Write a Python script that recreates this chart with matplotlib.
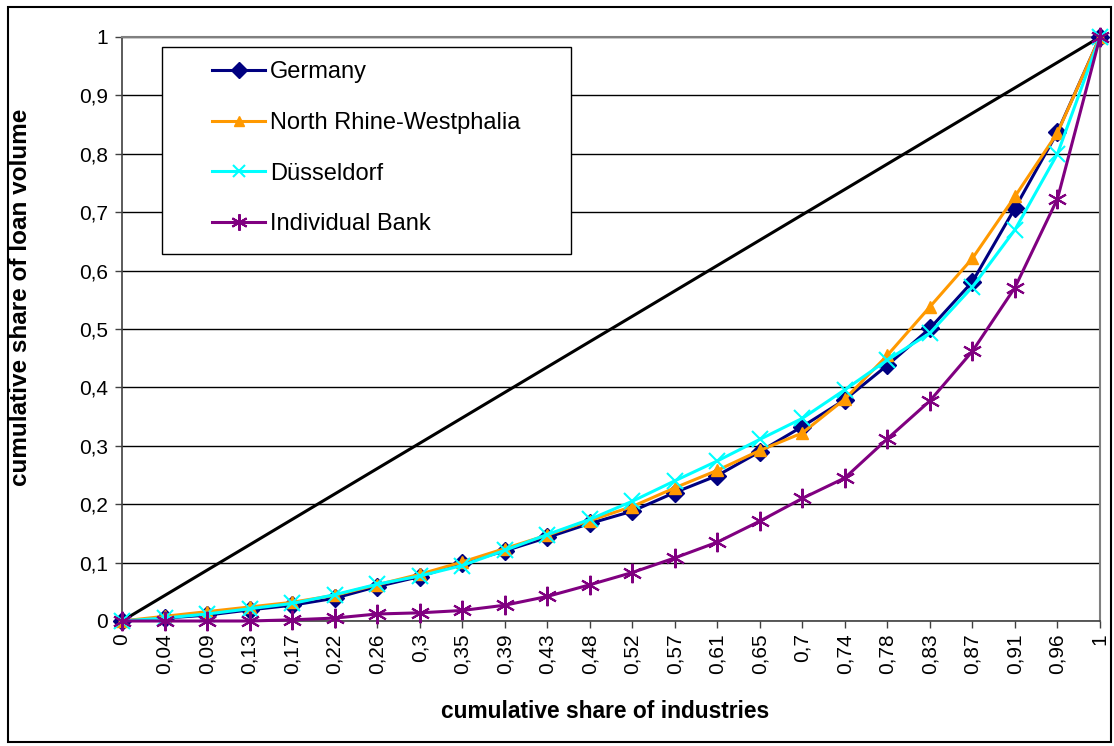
import matplotlib.pyplot as plt
from matplotlib.patches import Rectangle
from matplotlib.lines import Line2D

# cumulative share of industries (category labels)
x_labels = ['0', '0,04', '0,09', '0,13', '0,17', '0,22', '0,26', '0,3', '0,35', '0,39',
            '0,43', '0,48', '0,52', '0,57', '0,61', '0,65', '0,7', '0,74', '0,78', '0,83',
            '0,87', '0,91', '0,96', '1']
equality = [0.0, 0.0435, 0.087, 0.1304, 0.1739, 0.2174, 0.2609, 0.3043, 0.3478, 0.3913,
            0.4348, 0.4783, 0.5217, 0.5652, 0.6087, 0.6522, 0.6957, 0.7391, 0.7826, 0.8261,
            0.8696, 0.913, 0.9565, 1.0]
germany = [0.0, 0.005, 0.01, 0.019, 0.027, 0.039, 0.059, 0.076, 0.099, 0.12,
           0.143, 0.167, 0.188, 0.22, 0.249, 0.29, 0.333, 0.379, 0.438, 0.501,
           0.581, 0.707, 0.837, 1.0]
nrw = [0.0, 0.008, 0.016, 0.024, 0.032, 0.044, 0.062, 0.08, 0.101, 0.124,
       0.147, 0.172, 0.196, 0.228, 0.258, 0.292, 0.322, 0.38, 0.455, 0.538,
       0.621, 0.727, 0.836, 1.0]
duesseldorf = [0.0, 0.005, 0.012, 0.021, 0.03, 0.045, 0.063, 0.077, 0.095, 0.121,
               0.148, 0.174, 0.205, 0.24, 0.274, 0.311, 0.347, 0.396, 0.447, 0.493,
               0.572, 0.67, 0.8, 1.0]
bank = [0.0, 0.0, 0.0, 0.0, 0.002, 0.005, 0.012, 0.014, 0.018, 0.027,
        0.042, 0.062, 0.083, 0.108, 0.135, 0.171, 0.21, 0.245, 0.312, 0.377,
        0.462, 0.571, 0.723, 1.0]
y_ticks = [0, 0.1, 0.2, 0.3, 0.4, 0.5, 0.6, 0.7, 0.8, 0.9, 1.0]
y_labels = ['0', '0,1', '0,2', '0,3', '0,4', '0,5', '0,6', '0,7', '0,8', '0,9', '1']

W, H = 1114, 746
fig = plt.figure(figsize=(W / 100, H / 100), dpi=100)
plt.rcParams['font.family'] = ['Liberation Sans', 'DejaVu Sans']

# outer chart border
fig.patches.append(Rectangle((8 / W, 4 / H), 1103 / W, 735 / H, transform=fig.transFigure,
                             fill=False, edgecolor='black', linewidth=1.5))

ax = fig.add_axes([122 / W, (H - 621) / H, (1100 - 122) / W, (621 - 37) / H])
idx = list(range(len(x_labels)))

lw = 2.2
ax.plot(idx, equality, color='black', linewidth=lw, zorder=3)
series = [
    (germany, 'Germany', '#000080', 'D', 9, 1),
    (nrw, 'North Rhine-Westphalia', '#FF9900', '^', 9, 1),
    (duesseldorf, 'Düsseldorf', '#00FFFF', 'x', 11, 1.5),
    (bank, 'Individual Bank', '#800080', (6, 2, 0), 14, 1.5),
]
handles = []
for vals, name, col, mk, ms, mew in series:
    ax.plot(idx, vals, color=col, linewidth=lw, marker=mk, markersize=ms,
            markeredgewidth=mew, markeredgecolor=col, zorder=4, clip_on=False)
    handles.append(Line2D([], [], color=col, linewidth=lw, marker=mk, markersize=ms * 0.85,
                          markeredgewidth=mew, markeredgecolor=col))

ax.set_xlim(0, len(x_labels) - 1)
ax.set_ylim(0, 1)
ax.set_xticks(idx)
ax.set_xticklabels(x_labels, rotation=90, fontsize=15)
ax.set_yticks(y_ticks)
ax.set_yticklabels(y_labels, fontsize=15)
ax.tick_params(axis='both', direction='out', length=5, width=1, color='#404040')
ax.tick_params(axis='x', pad=4)
ax.tick_params(axis='y', pad=5)

ax.grid(axis='y', color='black', linewidth=1)
ax.set_axisbelow(True)
for side in ['top', 'right']:
    ax.spines[side].set_color('#808080')
    ax.spines[side].set_linewidth(1.5)
for side in ['left', 'bottom']:
    ax.spines[side].set_color('#404040')
    ax.spines[side].set_linewidth(1.2)

lab_font = dict(family=['Liberation Sans Narrow', 'Liberation Sans'], fontweight='bold')
fig.text(605 / W, 1 - 712 / H, 'cumulative share of industries', ha='center', va='center',
         fontsize=16.4, **lab_font)
fig.text(21 / W, 1 - 297 / H, 'cumulative share of loan volume', ha='center', va='center',
         rotation=90, fontsize=17.5, **lab_font)

# legend box
fig.patches.append(Rectangle((162 / W, (H - 254) / H), (571 - 162) / W, (254 - 47) / H,
                             transform=fig.transFigure, facecolor='white',
                             edgecolor='black', linewidth=1, zorder=5))
leg = fig.legend(handles, [s[1] for s in series], loc='upper left',
                 bbox_to_anchor=(212 / W, 1 - 61 / H), frameon=False, fontsize=17,
                 handlelength=2.25, handletextpad=0.2, labelspacing=1.22,
                 borderpad=0, borderaxespad=0)
leg.set_zorder(6)

fig.savefig('out.png', dpi=100)
